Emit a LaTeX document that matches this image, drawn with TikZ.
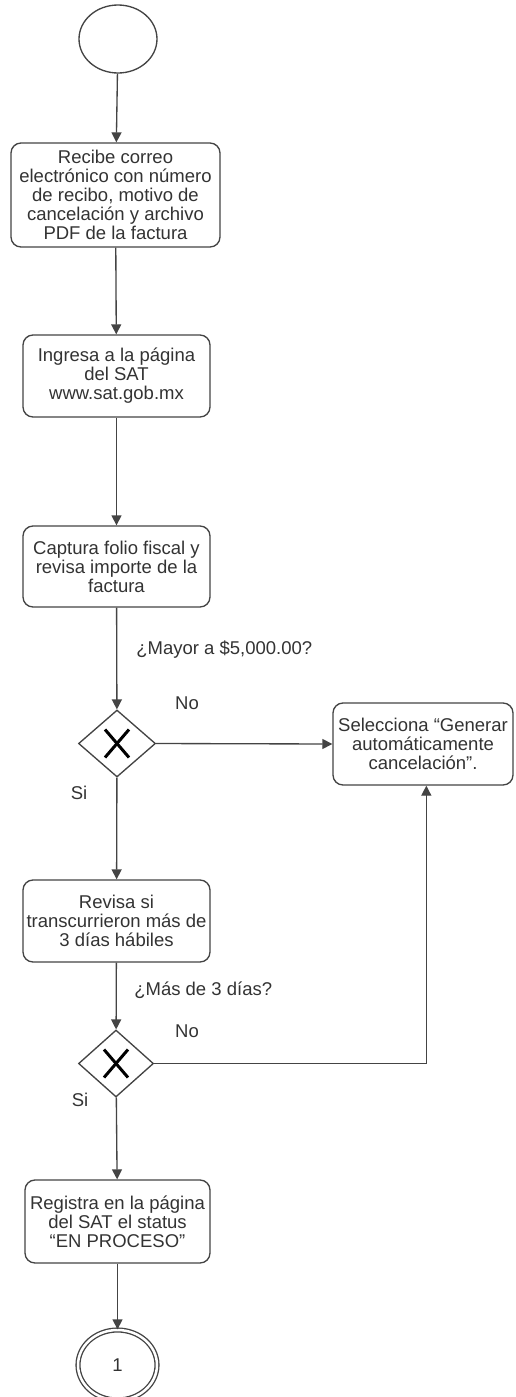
\documentclass[tikz,border=0pt]{standalone}
\usepackage{fontspec}
\setmainfont{Liberation Sans}
\usetikzlibrary{arrows.meta,shapes.geometric,shapes.misc}
\definecolor{txt}{HTML}{333333}
\definecolor{edge}{HTML}{444444}
\begin{document}
\begin{tikzpicture}[x=0.6pt,y=-0.6pt,
  every node/.style={font=\fontsize{11.1}{11.4}\selectfont, text=txt},
  task/.style={draw=edge, line width=0.8pt, rounded corners=6pt, align=center, inner sep=0pt, fill=white},
  gate/.style={draw=edge, line width=0.8pt, diamond, inner sep=0pt, fill=white},
  ev/.style={draw=edge, line width=0.8pt, ellipse, inner sep=0pt},
  flow/.style={draw=edge, line width=0.8pt, -{Triangle[length=6pt,width=6pt]}},
  xmark/.style={draw=black, line width=1.8pt},
  lbl/.style={inner sep=0pt}
]
\path[use as bounding box, fill=white] (0,0) rectangle (515,1397);

\node[ev, minimum width=46.8pt, minimum height=40.8pt] (start) at (118,39) {};

\node[task, minimum width=125.4pt, minimum height=62.4pt] (b1) at (115.5,195)
  {Recibe correo\\electrónico con número\\de recibo, motivo de\\cancelación y archivo\\PDF de la factura};
\node[task, minimum width=112.2pt, minimum height=49.2pt] (b2) at (116.5,376)
  {Ingresa a la página\\del SAT\\www.sat.gob.mx};
\node[task, minimum width=112.2pt, minimum height=48.6pt] (b3) at (116.5,566.5)
  {Captura folio fiscal y\\revisa importe de la\\factura};
\node[gate, minimum width=46.2pt, minimum height=40.2pt] (d1) at (117,743.5) {};
\node[task, minimum width=108pt, minimum height=49.2pt] (rb) at (423,744)
  {Selecciona “Generar\\automáticamente\\cancelación”.};
\node[task, minimum width=112.2pt, minimum height=49.2pt] (b4) at (116.5,921)
  {Revisa si\\transcurrieron más de\\3 días hábiles};
\node[gate, minimum width=45pt, minimum height=40.2pt] (d2) at (116,1063.5) {};
\node[task, minimum width=111pt, minimum height=49.8pt] (b5) at (117.5,1221.5)
  {Registra en la página\\del SAT el status\\“EN PROCESO”};
\node[ev, double, double distance=1.5pt, minimum width=47.4pt, minimum height=42pt] (end) at (117.5,1365) {1};

% X marks in gateways
\draw[xmark] ([shift={(-12,-14)}]d1.center) -- ([shift={(12,14)}]d1.center);
\draw[xmark] ([shift={(12,-14)}]d1.center) -- ([shift={(-12,14)}]d1.center);
\draw[xmark] ([shift={(-12,-14)}]d2.center) -- ([shift={(12,14)}]d2.center);
\draw[xmark] ([shift={(12,-14)}]d2.center) -- ([shift={(-12,14)}]d2.center);

% flows
\draw[flow] (start) -- (b1);
\draw[flow] (b1) -- (b2);
\draw[flow] (b2) -- (b3);
\draw[flow] (b3) -- (d1);
\draw[flow] (d1.east) -- (rb.west);
\draw[flow] (d1) -- (b4);
\draw[flow] (b4) -- (d2);
\draw[flow] (d2.east) -| ([xshift=2]rb.south);
\draw[flow] (d2) -- (b5);
\draw[flow] (b5) -- (end);

% labels
\node[lbl, anchor=west] (q1) at (136,650) {¿Mayor a \$5,000.00?};
\node[lbl] (no1) at (187,703) {No};
\node[lbl] (si1) at (79,793) {Si};
\node[lbl, anchor=west] (q2) at (134,990) {¿Más de 3 días?};
\node[lbl] (no2) at (187,1031) {No};
\node[lbl] (si2) at (80,1100) {Si};
\end{tikzpicture}
\end{document}
